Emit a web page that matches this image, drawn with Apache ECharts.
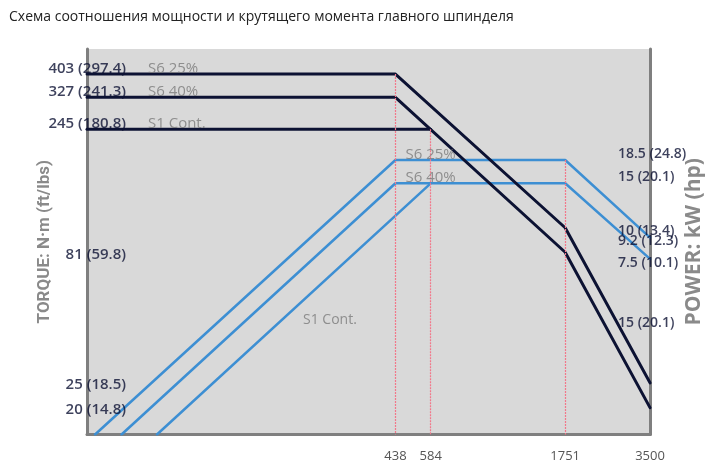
<!DOCTYPE html>
<html>
<head>
<meta charset="utf-8">
<script src="https://cdn.jsdelivr.net/npm/echarts@6/dist/echarts.min.js"></script>
<style>html,body{margin:0;padding:0;background:#fff}#c{width:721px;height:473px}</style>
</head>
<body>
<div id="c"></div>
<script>
// ---- data ----
const titleText = 'Схема соотношения мощности и крутящего момента главного шпинделя';
const rpmTicks = [438, 584, 1751, 3500];
const rpmRange = [35.3, 3500];
const torqueRange = [15.7, 505];
const powerRange = [1.566, 50.2];

const torque25Rpm = [35.3, 438, 1751, 3500];
const torque25 = [403, 403, 101, 25];
const torque40Rpm = [35.3, 438, 1751, 3500];
const torque40 = [327, 327, 81, 20];
const torqueS1Rpm = [35.3, 584];
const torqueS1 = [245, 245];

const power25Rpm = [37.7, 438, 1751, 3500];
const power25 = [1.566, 18.5, 18.5, 9.2];
const power40Rpm = [46.8, 438, 1751, 3500];
const power40 = [1.566, 15, 15, 7.6];
const powerS1Rpm = [62.5, 584];
const powerS1 = [1.566, 15];

const torqueLineLabels = ['403 (297.4)', '327 (241.3)', '245 (180.8)'];
const torqueLineValues = [403, 327, 245];
const torqueValueLabels = ['81 (59.8)', '25 (18.5)', '20 (14.8)'];
const torqueValueValues = [81, 25, 20];
const torqueNames = ['S6 25%', 'S6 40%', 'S1 Cont.'];

const powerLineLabels = ['18.5 (24.8)', '15 (20.1)'];
const powerLineValues = [18.5, 15];
const powerValueLabels = ['10 (13.4)', '9.2 (12.3)', '7.5 (10.1)', '15 (20.1)'];
const powerValueValues = [10, 9.2, 7.5, 4.4];
const powerNames = ['S6 25%', 'S6 40%'];
const s1Note = {rpm: 206, power: 4.4, text: 'S1 Cont.'};

// dashed guides: rpm, top value, axis index
const guideRpm = [438, 584, 1751];
const guideTop = [403, 245, 18.5];
const guideAxis = [0, 0, 1];

// ---- build ----
const zip = (xs, ys) => xs.map((x, i) => [x, ys[i]]);
const NAVY = '#0c1233';
const BLUE = '#3d8fd3';
const GREYTXT = '#7b7b7b';
const AXIS = '#7f7f7f';
const FONT = '"Open Sans", "Noto Sans", sans-serif';

function lineSeries(data, color, width, yIdx, z) {
  return {type: 'line', data, yAxisIndex: yIdx, symbol: 'none', z,
    lineStyle: {color, width, cap: 'round', join: 'round'}, silent: true, animation: false};
}
function labelSeries(data, yIdx, labelOpt) {
  return {type: 'scatter', yAxisIndex: yIdx, symbolSize: 0, silent: true, animation: false, z: 5,
    data: data.map(d => ({value: [d[0], d[1]], name: d[2]})),
    label: Object.assign({show: true, position: 'inside', formatter: p => p.name,
      fontFamily: FONT, fontSize: 14}, labelOpt)};
}

const guideData = guideRpm.map((r, i) => ({r, top: guideTop[i], ax: guideAxis[i]}));
const guideSeries = [0, 1].map(ax => ({
  type: 'line', yAxisIndex: ax, data: [], symbol: 'none', silent: true, animation: false, z: 2,
  markLine: {silent: true, symbol: 'none', label: {show: false}, animation: false, precision: 4,
    lineStyle: {color: '#f2788a', width: 1.2, type: [2, 1]},
    data: guideData.filter(g => g.ax === ax).map(g => [
      {coord: [g.r, g.top]}, {coord: [g.r, ax === 0 ? torqueRange[0] : powerRange[0]]}])}
}));

const option = {
  animation: false,
  title: {text: titleText, left: 9, top: 10, padding: 0,
    textStyle: {fontSize: 14, fontWeight: 'normal', color: '#222', fontFamily: FONT}},
  grid: {left: 87, right: 71, top: 49, bottom: 38.5, show: true, backgroundColor: '#d9d9d9', borderWidth: 0},
  xAxis: {type: 'log', logBase: 10, min: rpmRange[0], max: rpmRange[1],
    axisLine: {show: true, lineStyle: {color: AXIS, width: 3}},
    axisTick: {show: false}, splitLine: {show: false}, minorTick: {show: false},
    axisLabel: {customValues: rpmTicks, color: '#555', fontSize: 13, margin: 15, fontFamily: FONT,
      formatter: v => String(Math.round(v))}},
  yAxis: [
    {type: 'log', logBase: 10, min: torqueRange[0], max: torqueRange[1], position: 'left',
      name: 'TORQUE: N·m (ft/lbs)', nameLocation: 'middle', nameGap: 34, nameRotate: 90,
      nameTextStyle: {color: '#8a8a8a', fontSize: 17, fontWeight: 'bold', fontFamily: 'Roboto, ' + FONT},
      axisLine: {show: true, lineStyle: {color: AXIS, width: 3}},
      axisTick: {show: false}, axisLabel: {show: false}, splitLine: {show: false}},
    {type: 'log', logBase: 10, min: powerRange[0], max: powerRange[1], position: 'right',
      name: 'POWER: kW (hp)', nameLocation: 'middle', nameGap: 34, nameRotate: 90,
      nameTextStyle: {color: '#8a8a8a', fontSize: 21, fontWeight: 'bold', fontFamily: FONT},
      axisLine: {show: true, lineStyle: {color: AXIS, width: 3}},
      axisTick: {show: false}, axisLabel: {show: false}, splitLine: {show: false}}
  ],
  series: [
    ...guideSeries,
    lineSeries(zip(power25Rpm, power25), BLUE, 2.5, 1, 3),
    lineSeries(zip(power40Rpm, power40), BLUE, 2.5, 1, 3),
    lineSeries(zip(powerS1Rpm, powerS1), BLUE, 2.5, 1, 3),
    lineSeries(zip(torque25Rpm, torque25), NAVY, 3, 0, 4),
    lineSeries(zip(torque40Rpm, torque40), NAVY, 3, 0, 4),
    lineSeries(zip(torqueS1Rpm, torqueS1), NAVY, 3, 0, 4),
    labelSeries(torqueLineValues.map((v, i) => [rpmRange[0], v, torqueLineLabels[i]]), 0,
      {align: 'right', verticalAlign: 'bottom', offset: [39, 2], color: NAVY, fontWeight: 600, fontSize: 15}),
    labelSeries(torqueValueValues.map((v, i) => [rpmRange[0], v, torqueValueLabels[i]]), 0,
      {align: 'right', verticalAlign: 'middle', offset: [39, 2], color: NAVY, fontWeight: 600, fontSize: 15}),
    labelSeries(torqueLineValues.map((v, i) => [rpmRange[0], v, torqueNames[i]]), 0,
      {align: 'left', verticalAlign: 'bottom', offset: [61, 2], color: GREYTXT, fontSize: 15}),
    labelSeries(powerLineValues.map((v, i) => [rpmRange[1], v, powerLineLabels[i]]), 1,
      {align: 'left', verticalAlign: 'bottom', offset: [-32, 1], color: NAVY, fontWeight: 600, fontSize: 14}),
    labelSeries(powerValueValues.map((v, i) => [rpmRange[1], v, powerValueLabels[i]]), 1,
      {align: 'left', verticalAlign: 'middle', offset: [-32, 3], color: NAVY, fontWeight: 600, fontSize: 14}),
    labelSeries(powerLineValues.map((v, i) => [438, v, powerNames[i]]), 1,
      {align: 'left', verticalAlign: 'bottom', offset: [10, 2], color: GREYTXT, fontSize: 15}),
    labelSeries([[s1Note.rpm, s1Note.power, s1Note.text]], 1,
      {align: 'left', verticalAlign: 'middle', offset: [0, 0], color: GREYTXT, fontSize: 14})
  ]
};
echarts.init(document.getElementById('c'), null, {renderer: 'canvas'}).setOption(option);
</script>
</body>
</html>
